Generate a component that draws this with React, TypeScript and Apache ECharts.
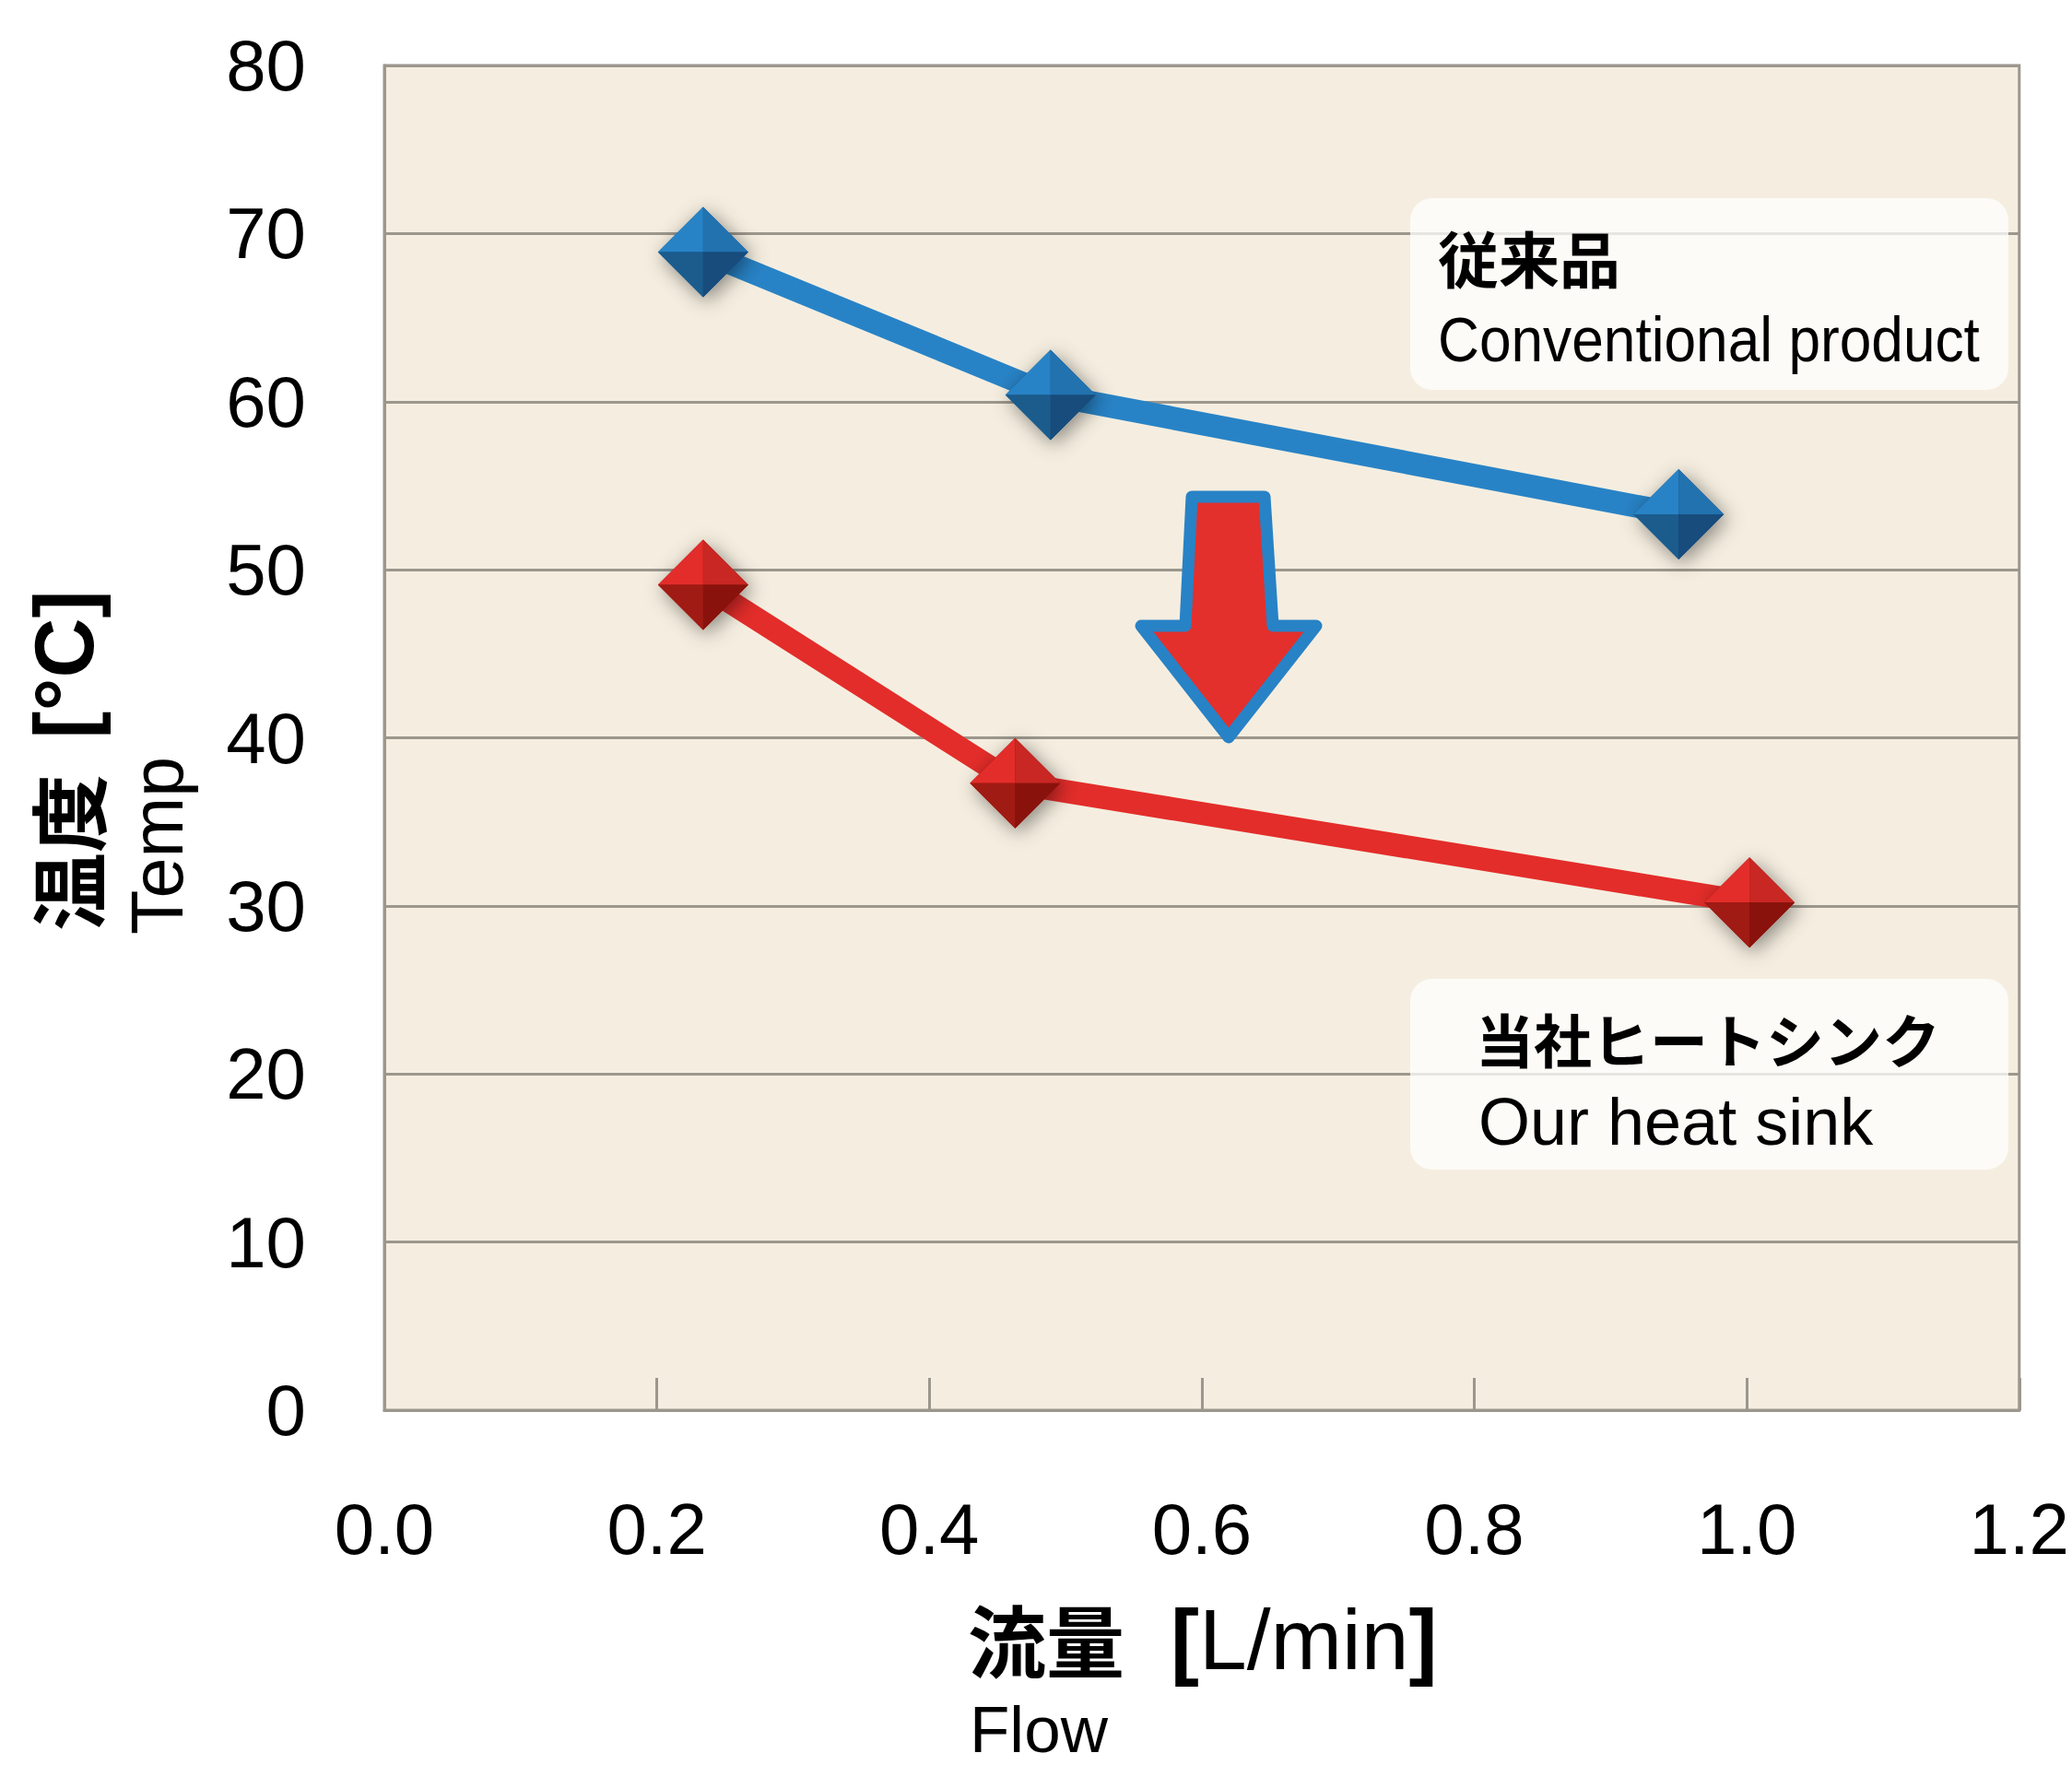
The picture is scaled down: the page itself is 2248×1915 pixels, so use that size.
import React, { useEffect, useRef } from "react";
import * as echarts from "echarts";

const xTicks = [0, 0.2, 0.4, 0.6, 0.8, 1.0, 1.2];
const yTicks = [0, 10, 20, 30, 40, 50, 60, 70, 80];

const conventionalFlow = [0.234, 0.489, 0.95];
const conventionalTemp = [68.9, 60.4, 53.3];
const ourFlow = [0.234, 0.463, 1.002];
const ourTemp = [49.1, 37.3, 30.2];

const blueShades = ["#2883c6", "#2272b0", "#1b5c8d", "#174c7c"];
const redShades = ["#e32d2a", "#c82723", "#a01b14", "#8a120c"];

const GRID = "#9c978d";
const LATIN = "'Liberation Sans', Arial, 'Noto Sans CJK JP', sans-serif";
const CJK = "'Noto Sans CJK JP', 'Liberation Sans', sans-serif";

function pairs(xs: number[], ys: number[]) {
  return xs.map((x, i) => [x, ys[i]]);
}

function markerSeries(name: string, data: number[][], shades: string[]) {
  return {
    name,
    type: "custom",
    clip: false,
    z: 5,
    data,
    renderItem: (params: any, api: any) => {
      const p = api.coord([api.value(0), api.value(1)]);
      const cx = p[0];
      const cy = p[1];
      const s = 49;
      return {
        type: "group",
        children: [
          {
            type: "polygon",
            shape: { points: [[cx, cy - s], [cx + s, cy], [cx, cy + s], [cx - s, cy]] },
            style: {
              fill: shades[3],
              shadowBlur: 22,
              shadowColor: "rgba(0,0,0,0.45)",
              shadowOffsetX: 4,
              shadowOffsetY: 5,
            },
          },
          { type: "polygon", shape: { points: [[cx, cy], [cx - s, cy], [cx, cy - s]] }, style: { fill: shades[0] } },
          { type: "polygon", shape: { points: [[cx, cy], [cx, cy - s], [cx + s, cy]] }, style: { fill: shades[1] } },
          { type: "polygon", shape: { points: [[cx, cy], [cx - s, cy], [cx, cy + s]] }, style: { fill: shades[2] } },
          { type: "polygon", shape: { points: [[cx, cy], [cx + s, cy], [cx, cy + s]] }, style: { fill: shades[3] } },
        ],
      };
    },
  };
}

export default function App() {
  const ref = useRef<HTMLDivElement>(null);

  useEffect(() => {
    document.body.style.margin = "0";
    const chart = echarts.init(ref.current!, null, { renderer: "svg" });
    const option: any = {
      animation: false,
      backgroundColor: "#ffffff",
      grid: {
        left: 417,
        top: 71,
        width: 1777,
        height: 1459,
        show: true,
        backgroundColor: "#f5eee0",
        borderColor: GRID,
        borderWidth: 3,
      },
      xAxis: {
        type: "value",
        min: xTicks[0],
        max: xTicks[xTicks.length - 1],
        interval: 0.2,
        axisLine: { show: true, lineStyle: { color: GRID, width: 3 } },
        axisTick: { show: true, inside: true, length: 35, lineStyle: { color: GRID, width: 3 } },
        splitLine: { show: false },
        axisLabel: {
          margin: 90,
          fontSize: 78,
          fontFamily: LATIN,
          color: "#000",
          formatter: (v: number) => v.toFixed(1),
        },
      },
      yAxis: {
        type: "value",
        min: yTicks[0],
        max: yTicks[yTicks.length - 1],
        interval: 10,
        axisLine: { show: true, lineStyle: { color: GRID, width: 3 } },
        axisTick: { show: false },
        splitLine: { show: true, lineStyle: { color: GRID, width: 3 } },
        axisLabel: {
          margin: 85,
          fontSize: 78,
          fontFamily: LATIN,
          color: "#000",
          padding: [0, 0, 28, 0],
        },
      },
      series: [
        {
          name: "従来品 Conventional product",
          type: "line",
          data: pairs(conventionalFlow, conventionalTemp),
          symbol: "none",
          lineStyle: { color: blueShades[0], width: 25 },
          z: 3,
        },
        {
          name: "当社ヒートシンク Our heat sink",
          type: "line",
          data: pairs(ourFlow, ourTemp),
          symbol: "none",
          lineStyle: { color: redShades[0], width: 25 },
          z: 3,
        },
        markerSeries("conventional markers", pairs(conventionalFlow, conventionalTemp), blueShades),
        markerSeries("our markers", pairs(ourFlow, ourTemp), redShades),
      ],
      graphic: [
        // arrow
        {
          type: "polygon",
          z: 50,
          shape: {
            points: [
              [1293, 539],
              [1372, 539],
              [1381, 679],
              [1428, 679],
              [1333, 800],
              [1238, 679],
              [1286, 679],
            ],
          },
          style: { fill: "#e3302c", stroke: "#2882c6", lineWidth: 13, lineJoin: "round" },
        },
        // box 1
        {
          type: "rect",
          z: 50,
          shape: { x: 1530, y: 215, width: 649, height: 208, r: 24 },
          style: { fill: "rgba(255,255,255,0.75)" },
        },
        {
          type: "text",
          z: 51,
          x: 1560,
          y: 278,
          style: { text: "従来品", fontFamily: CJK, fontWeight: "bold", fontSize: 66, fill: "#000", textAlign: "left", textVerticalAlign: "middle" },
        },
        {
          type: "text",
          z: 51,
          x: 1560,
          y: 369,
          scaleX: 0.915,
          style: { text: "Conventional product", fontFamily: LATIN, fontSize: 68, fill: "#000", textAlign: "left", textVerticalAlign: "middle" },
        },
        // box 2
        {
          type: "rect",
          z: 50,
          shape: { x: 1530, y: 1062, width: 649, height: 207, r: 24 },
          style: { fill: "rgba(255,255,255,0.75)" },
        },
        {
          type: "text",
          z: 51,
          x: 1601,
          y: 1125,
          style: { text: "当社ヒートシンク", fontFamily: CJK, fontWeight: "bold", fontSize: 63, fill: "#000", textAlign: "left", textVerticalAlign: "middle" },
        },
        {
          type: "text",
          z: 51,
          x: 1604,
          y: 1217,
          style: { text: "Our heat sink", fontFamily: LATIN, fontSize: 72, fill: "#000", textAlign: "left", textVerticalAlign: "middle" },
        },
        // x axis name
        {
          type: "text",
          z: 51,
          x: 1050,
          y: 1776,
          style: { text: "流量", fontFamily: CJK, fontWeight: "bold", fontSize: 85, lineHeight: 86, fill: "#000", textAlign: "left", textVerticalAlign: "middle" },
        },
        {
          type: "text",
          z: 51,
          x: 1270,
          y: 1779,
          style: {
            text: "{k|[}{r|L/min}{k|]}",
            fill: "#000",
            textAlign: "left",
            textVerticalAlign: "middle",
            rich: {
              k: { fontFamily: LATIN, fontWeight: "bold", fontSize: 93, lineHeight: 96, fill: "#000" },
              r: { fontFamily: LATIN, fontSize: 93, lineHeight: 96, fill: "#000" },
            },
          },
        },
        {
          type: "text",
          z: 51,
          x: 1052,
          y: 1876,
          style: { text: "Flow", fontFamily: LATIN, fontSize: 71, lineHeight: 56, fill: "#000", textAlign: "left", textVerticalAlign: "middle" },
        },
        // y axis name
        {
          type: "text",
          z: 51,
          x: 70,
          y: 1010,
          rotation: Math.PI / 2,
          style: {
            text: "{b|温度  }{k|[°C]}",
            fill: "#000",
            textAlign: "left",
            textVerticalAlign: "middle",
            rich: {
              b: { fontFamily: CJK, fontWeight: "bold", fontSize: 85, fill: "#000" },
              k: { fontFamily: LATIN, fontWeight: "bold", fontSize: 90, fill: "#000" },
            },
          },
        },
        {
          type: "text",
          z: 51,
          x: 170,
          y: 1014,
          rotation: Math.PI / 2,
          style: { text: "Temp", fontFamily: LATIN, fontSize: 79, fill: "#000", textAlign: "left", textVerticalAlign: "middle" },
        },
      ],
    };
    chart.setOption(option);
    return () => chart.dispose();
  }, []);

  return (
    <div
      ref={ref}
      style={{ position: "fixed", left: 0, top: 0, width: 2248, height: 1915 }}
    />
  );
}
